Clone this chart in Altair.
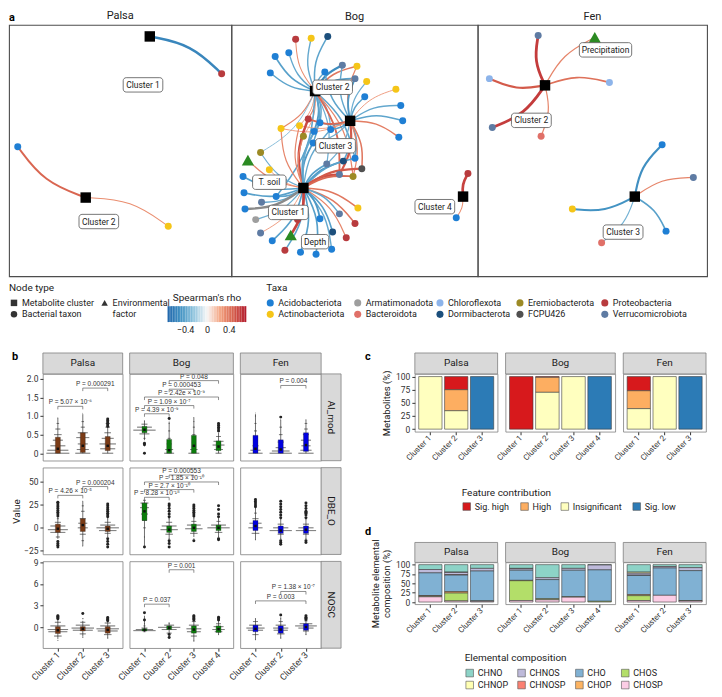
import math
import altair as alt
import numpy as np
import pandas as pd

FONT = "Roboto"
PFONT = "Liberation Sans"
INK = "#222222"
FRAME = "#7f7f7f"

# ---------------- shared categories ----------------
TAXA = ["Acidobacteriota", "Actinobacteriota", "Armatimonadota", "Bacteroidota",
        "Chloroflexota", "Dormibacterota", "Eremiobacterota", "FCPU426",
        "Proteobacteria", "Verrucomicrobiota"]
TAXA_COLORS = ["#1f7fd4", "#f5c518", "#9e9e9e", "#e07068", "#8db4ea",
               "#1c4f7c", "#9c8a25", "#505050", "#b83b3e", "#5e7ba3"]
RHO_STOPS = [-0.72, -0.48, -0.24, 0.0, 0.24, 0.48, 0.72]
RHO_COLORS = ["#2166ac", "#4393c3", "#92c5de", "#f7f7f7", "#f4a582", "#d6604d", "#b2182b"]
RHO_TICKS = [-0.4, 0.0, 0.4]
RHO_SCALE = alt.Scale(domain=RHO_STOPS, range=RHO_COLORS, interpolate="rgb")

# ---------------- panel a: network layouts (layout units, x right / y down) ----------------
NET_EXTENT = {"Palsa": (229, 262), "Bog": (253, 262), "Fen": (235, 262)}
NET_W = {"Palsa": 223, "Bog": 247, "Fen": 230}
NET_H = 252

PALSA_NODES = [
    ("C1", "cluster", "", 145, 12), ("C2", "cluster", "", 79, 180),
    ("p1", "taxon", "Proteobacteria", 219, 51),
    ("p2", "taxon", "Acidobacteriota", 9, 127),
    ("p3", "taxon", "Actinobacteriota", 164, 210),
]
PALSA_EDGES = [("C1", "p1", -0.55), ("C2", "p2", 0.46), ("C2", "p3", 0.32)]
PALSA_LABELS = [("Cluster 1", 138, 62.5), ("Cluster 2", 92.5, 205)]

BOG_NODES = [
    ("C1", "cluster", "", 74, 170), ("C2", "cluster", "", 86, 69),
    ("C3", "cluster", "", 122, 100), ("C4", "cluster", "", 238, 179),
    ("Tsoil", "env", "", 17, 141), ("Depth", "env", "", 61, 219),
    ("b1", "taxon", "Proteobacteria", 66, 15), ("b2", "taxon", "Actinobacteriota", 82, 14),
    ("b3", "taxon", "Dormibacterota", 99, 12), ("b4", "taxon", "Acidobacteriota", 45, 33),
    ("b5", "taxon", "Acidobacteriota", 59, 29), ("b6", "taxon", "Acidobacteriota", 40, 50),
    ("b7", "taxon", "Verrucomicrobiota", 114, 42), ("b8", "taxon", "Actinobacteriota", 129, 43),
    ("b9", "taxon", "Acidobacteriota", 96, 49), ("b10", "taxon", "Verrucomicrobiota", 127, 56),
    ("b11", "taxon", "Actinobacteriota", 139, 59), ("b12", "taxon", "Acidobacteriota", 137, 75),
    ("b13", "taxon", "Actinobacteriota", 169, 67), ("b14", "taxon", "Acidobacteriota", 174, 84),
    ("b15", "taxon", "Acidobacteriota", 176, 100), ("b16", "taxon", "Acidobacteriota", 172, 117),
    ("b17", "taxon", "Proteobacteria", 79, 98), ("b18", "taxon", "Actinobacteriota", 51, 108),
    ("b19", "taxon", "Actinobacteriota", 70, 105), ("b20", "taxon", "Acidobacteriota", 91, 102),
    ("b21", "taxon", "Acidobacteriota", 102, 109), ("b22", "taxon", "Acidobacteriota", 85, 111),
    ("b23", "taxon", "Eremiobacterota", 74, 116), ("b24", "taxon", "Acidobacteriota", 84, 123),
    ("b25", "taxon", "Verrucomicrobiota", 98, 145), ("b26", "taxon", "Dormibacterota", 115, 142),
    ("b27", "taxon", "Acidobacteriota", 127, 139), ("b28", "taxon", "Verrucomicrobiota", 111, 156),
    ("b29", "taxon", "FCPU426", 134, 150), ("b30", "taxon", "Eremiobacterota", 125, 158),
    ("b31", "taxon", "Eremiobacterota", 30, 133), ("b32", "taxon", "Actinobacteriota", 39, 151),
    ("b33", "taxon", "Acidobacteriota", 12, 158), ("b34", "taxon", "Acidobacteriota", 13, 175),
    ("b35", "taxon", "Acidobacteriota", 14, 192), ("b36", "taxon", "Armatimonadota", 25, 203),
    ("b37", "taxon", "Verrucomicrobiota", 30, 217), ("b38", "taxon", "Verrucomicrobiota", 31, 185),
    ("b39", "taxon", "Acidobacteriota", 46, 179), ("b40", "taxon", "Acidobacteriota", 42, 225),
    ("b41", "taxon", "Proteobacteria", 55, 235), ("b42", "taxon", "Acidobacteriota", 71, 237),
    ("b43", "taxon", "Acidobacteriota", 87, 239), ("b44", "taxon", "Acidobacteriota", 103, 234),
    ("b45", "taxon", "Dormibacterota", 104, 216), ("b46", "taxon", "Proteobacteria", 118, 222),
    ("b47", "taxon", "Proteobacteria", 127, 207), ("b48", "taxon", "Verrucomicrobiota", 111, 197),
    ("b49", "taxon", "Actinobacteriota", 130, 191), ("b50", "taxon", "Acidobacteriota", 91, 202),
    ("b51", "taxon", "Proteobacteria", 68, 203),
    ("b53", "taxon", "Proteobacteria", 243, 155), ("b54", "taxon", "Acidobacteriota", 231, 201),
]
BOG_EDGES = [
    ("C2", "b1", 0.32), ("C2", "b2", -0.38), ("C2", "b3", -0.4), ("C2", "b4", -0.42),
    ("C2", "b5", -0.38), ("C2", "b6", -0.4), ("C2", "b7", -0.52), ("C2", "b8", 0.4),
    ("C2", "b9", -0.38), ("C2", "b10", -0.42), ("C2", "b17", 0.35), ("C2", "b18", 0.35),
    ("C2", "b19", 0.3), ("C2", "b20", -0.4), ("C2", "b21", -0.35), ("C2", "b22", -0.45),
    ("C2", "b23", 0.3), ("C2", "b24", -0.4), ("C2", "b25", -0.35), ("C2", "b27", -0.4),
    ("C2", "b28", 0.45), ("C2", "b30", 0.35), ("C2", "b39", -0.4), ("C2", "b31", -0.3),
    ("C3", "b7", -0.38), ("C3", "b8", 0.35), ("C3", "b9", -0.4), ("C3", "b10", -0.45),
    ("C3", "b11", -0.35), ("C3", "b12", -0.4), ("C3", "b13", 0.3), ("C3", "b14", -0.38),
    ("C3", "b15", -0.4), ("C3", "b16", 0.38), ("C3", "b20", -0.4), ("C3", "b21", -0.42),
    ("C3", "b17", 0.45), ("C3", "b19", 0.3), ("C3", "b25", -0.35), ("C3", "b26", -0.4),
    ("C3", "b27", -0.4), ("C3", "b28", 0.5), ("C3", "b29", 0.4), ("C3", "b30", 0.35),
    ("C3", "b24", -0.35), ("C3", "b18", 0.3),
    ("C1", "b17", 0.55), ("C1", "b19", 0.35), ("C1", "b21", -0.38), ("C1", "b22", -0.4),
    ("C1", "b23", 0.35), ("C1", "b24", -0.45), ("C1", "b25", -0.42), ("C1", "b26", -0.45),
    ("C1", "b27", -0.4), ("C1", "b28", 0.55), ("C1", "b29", 0.5), ("C1", "b30", 0.45),
    ("C1", "b31", -0.35), ("C1", "b32", 0.3), ("C1", "b33", -0.42), ("C1", "b34", -0.42),
    ("C1", "b35", None), ("C1", "b36", -0.35), ("C1", "b37", 0.3), ("C1", "b38", -0.38),
    ("C1", "b39", -0.4), ("C1", "b40", -0.42), ("C1", "b41", -0.4), ("C1", "b42", -0.42),
    ("C1", "b43", -0.42), ("C1", "b44", -0.38), ("C1", "b45", -0.42), ("C1", "b46", 0.35),
    ("C1", "b47", 0.4), ("C1", "b48", -0.38), ("C1", "b49", 0.4), ("C1", "b50", -0.45),
    ("C1", "b51", 0.3), ("C1", "b20", -0.38), ("C1", "b18", 0.35),
    ("C1", "Tsoil", 0.35), ("C1", "Depth", 0.58),
    ("C4", "b53", 0.58), ("C4", "b54", 0.32),
]
BOG_LABELS = [("Cluster 1", 58.5, 195.5), ("Cluster 2", 104, 65), ("Cluster 3", 107, 126),
              ("Cluster 4", 209, 189.5), ("T. soil", 39, 164), ("Depth", 86, 226)]

FEN_NODES = [
    ("C2", "cluster", "", 69, 63), ("C3", "cluster", "", 161, 179),
    ("Precip", "env", "", 120, 13),
    ("f1", "taxon", "Verrucomicrobiota", 62, 11), ("f2", "taxon", "Chloroflexota", 12, 56),
    ("f3", "taxon", "Chloroflexota", 135, 60), ("f4", "taxon", "Verrucomicrobiota", 15, 107),
    ("f5", "taxon", "Bacteroidota", 65, 116), ("f6", "taxon", "Acidobacteriota", 189, 125),
    ("f7", "taxon", "Verrucomicrobiota", 221, 159), ("f8", "taxon", "Actinobacteriota", 97, 192),
    ("f9", "taxon", "Acidobacteriota", 193, 215), ("f10", "taxon", "Bacteroidota", 127, 227),
]
FEN_EDGES = [("C2", "f1", 0.6), ("C2", "f2", 0.5), ("C2", "f3", 0.42), ("C2", "f4", 0.6),
             ("C2", "f5", 0.35), ("C2", "Precip", 0.35), ("C3", "f6", -0.5), ("C3", "f7", 0.35),
             ("C3", "f8", -0.48), ("C3", "f9", -0.42), ("C3", "f10", -0.33)]
FEN_LABELS = [("Precipitation", 131, 26), ("Cluster 2", 55, 99.5), ("Cluster 3", 149, 216)]

NODE_TYPE_LABELS = ["Metabolite cluster", "Bacterial taxon", "Environmental", "factor"]
NODE_TYPE_SHAPES = ["square", "circle", "triangle-up", ""]

# ---------------- panel b: violin summaries ----------------
SITES = ["Palsa", "Bog", "Fen"]
METRICS = ["AI_mod", "DBE_O", "NOSC"]
VIOLIN_FILL = {"Palsa": "#c8a391", "Bog": "#7dc67b", "Fen": "#7c7cf8"}
BOX_FILL = {"Palsa": "#7a3b16", "Bog": "#0b7d0b", "Fen": "#0000e0"}
Y_DOMAIN = {"AI_mod": [-0.2, 2.13], "DBE_O": [-29, 65.6], "NOSC": [-2.87, 9.1]}
Y_TICKS = {"AI_mod": [0, 0.5, 1.0, 1.5, 2.0], "DBE_O": [-25, 0, 25, 50], "NOSC": [0, 3, 6, 9]}

# (value, half width in cluster units)
AI_PROFILE = {
    "Palsa": [
        [(0.0, 0.46), (0.08, 0.42), (0.2, 0.3), (0.35, 0.2), (0.5, 0.15), (0.65, 0.1), (0.8, 0.05), (0.95, 0.01)],
        [(0.0, 0.3), (0.1, 0.24), (0.25, 0.2), (0.42, 0.26), (0.55, 0.2), (0.7, 0.08), (0.85, 0.05), (1.07, 0.01)],
        [(0.0, 0.22), (0.12, 0.3), (0.25, 0.33), (0.4, 0.24), (0.55, 0.13), (0.7, 0.09), (0.8, 0.08), (0.92, 0.02)]],
    "Bog": [
        [(0.0, 0.02), (0.2, 0.02), (0.4, 0.04), (0.52, 0.2), (0.62, 0.45), (0.7, 0.3), (0.78, 0.12), (0.87, 0.02)],
        [(0.0, 0.2), (0.1, 0.16), (0.25, 0.1), (0.4, 0.06), (0.6, 0.04), (0.8, 0.02), (0.9, 0.01)],
        [(0.0, 0.22), (0.1, 0.15), (0.3, 0.08), (0.5, 0.06), (0.7, 0.04), (0.85, 0.02), (0.96, 0.01)],
        [(0.0, 0.12), (0.1, 0.18), (0.22, 0.24), (0.32, 0.2), (0.45, 0.1), (0.6, 0.06), (0.8, 0.01)]],
    "Fen": [
        [(0.0, 0.28), (0.08, 0.2), (0.2, 0.12), (0.4, 0.08), (0.6, 0.06), (0.8, 0.04), (1.0, 0.02), (1.08, 0.01)],
        [(0.0, 0.44), (0.06, 0.35), (0.15, 0.2), (0.3, 0.12), (0.5, 0.07), (0.7, 0.05), (0.9, 0.01)],
        [(0.0, 0.3), (0.08, 0.22), (0.2, 0.18), (0.35, 0.2), (0.5, 0.12), (0.65, 0.07), (0.8, 0.05), (0.9, 0.01)]],
}
AI_BOX = {  # (lower whisker, q1, median, q3, upper whisker)
    "Palsa": [(0, 0.0, 0.12, 0.43, 0.95), (0, 0.02, 0.2, 0.55, 1.05), (0, 0.07, 0.2, 0.45, 0.68)],
    "Bog": [(0.35, 0.55, 0.63, 0.72, 0.87), (0, 0.0, 0.08, 0.37, 0.85), (0, 0.0, 0.2, 0.48, 0.96), (0, 0.07, 0.18, 0.33, 0.55)],
    "Fen": [(0, 0.0, 0.12, 0.48, 1.05), (0, 0.0, 0.1, 0.36, 0.9), (0, 0.05, 0.22, 0.55, 0.9)],
}
AI_OUT = {
    "Palsa": [[], [], [0.72, 0.76, 0.8, 0.84, 0.88, 0.92]],
    "Bog": [[0.0, 0.23, 0.27], [0.93], [], [0.6, 0.65, 0.7, 0.75, 0.8]],
    "Fen": [[], [0.97], []],
}
AI_P = {
    "Palsa": [(1, 2, 1.26, "P = 5.07 × 10⁻⁶"), (2, 3, 1.75, "P = 0.000291")],
    "Bog": [(1, 2, 1.06, "P = 4.39 × 10⁻⁹"), (1, 3, 1.28, "P = 1.09 × 10⁻⁷"),
            (1, 4, 1.51, "P = 2.42e × 10⁻⁹"), (2, 3, 1.72, "P = 0.000453"), (2, 4, 1.95, "P = 0.048")],
    "Fen": [(2, 3, 1.82, "P = 0.004")],
}

DBE_PROFILE = {
    "Palsa": [
        [(-14, 0.01), (-10, 0.08), (-5, 0.3), (-2, 0.4), (2, 0.3), (6, 0.12), (10, 0.04), (13, 0.01)],
        [(-20, 0.01), (-14, 0.05), (-7, 0.12), (0, 0.2), (5, 0.18), (10, 0.12), (18, 0.07), (24, 0.04), (29, 0.01)],
        [(-10, 0.01), (-6, 0.12), (-3, 0.35), (0, 0.45), (3, 0.3), (6, 0.12), (10, 0.02)]],
    "Bog": [
        [(-21, 0.01), (-10, 0.02), (0, 0.05), (8, 0.1), (15, 0.14), (22, 0.18), (27, 0.16), (30, 0.06)],
        [(-12, 0.02), (-7, 0.15), (-2, 0.35), (2, 0.3), (6, 0.12), (10, 0.03)],
        [(-12, 0.02), (-6, 0.15), (-1, 0.35), (3, 0.28), (7, 0.1), (11, 0.03)],
        [(-10, 0.02), (-5, 0.15), (0, 0.45), (3, 0.3), (7, 0.08), (10, 0.02)]],
    "Fen": [
        [(-13, 0.02), (-6, 0.15), (0, 0.28), (5, 0.24), (10, 0.12), (16, 0.05), (22, 0.02)],
        [(-12, 0.02), (-7, 0.12), (-3, 0.44), (0, 0.3), (4, 0.12), (9, 0.02)],
        [(-12, 0.02), (-7, 0.12), (-3, 0.4), (0, 0.3), (4, 0.12), (9, 0.02)]],
}
DBE_BOX = {
    "Palsa": [(-12, -5, -1, 4, 12), (-20, -4, 3, 10, 29), (-10, -4, -1, 2, 10)],
    "Bog": [(-21, 8, 18, 27, 30), (-12, -5, -2, 2, 10), (-10, -4, 0, 4, 11), (-10, -3, 0, 3, 10)],
    "Fen": [(-13, -3, 2, 8, 22), (-12, -6, -3, 2, 9), (-12, -6, -2, 2, 9)],
}
DBE_OUT = {
    "Palsa": [[-21, -19, -17, -15, 13, 15, 17, 19, 21, 23, 25, 27, 28], [],
              [-21, -18, -15, -12, 12, 14, 16, 18, 20, 22, 24, 26]],
    "Bog": [[-21], [-21, -17, -14, 12, 15, 18, 21, 24, 26], [-14, 13, 15, 17, 19, 21, 23, 25],
            [-13, -12, 12, 15, 20, 24]],
    "Fen": [[23, 25, 27, 29, 31], [-18, -16, -14, 11, 14, 17, 20, 23, 26, 29],
            [-16, -14, 11, 14, 16, 17, 18, 21, 24, 27]],
}
DBE_P = {
    "Palsa": [(1, 2, 35.4, "P = 4.26 × 10⁻⁵"), (2, 3, 45.0, "P = 0.000204")],
    "Bog": [(1, 2, 33.3, "P = 8.28 × 10⁻¹⁸"), (1, 3, 41.7, "P = 2.7 × 10⁻¹⁰"),
            (1, 4, 50.0, "P = 1.85 × 10⁻¹⁰"), (2, 3, 57.6, "P = 0.000553")],
    "Fen": [],
}

NOSC_PROFILE = {
    "Palsa": [
        [(-1.8, 0.02), (-1.2, 0.15), (-0.6, 0.38), (-0.3, 0.41), (0.2, 0.3), (0.7, 0.12), (1.2, 0.05), (1.7, 0.01)],
        [(-1.4, 0.02), (-0.9, 0.12), (-0.4, 0.4), (-0.1, 0.45), (0.3, 0.28), (0.7, 0.1), (1.2, 0.03), (1.9, 0.01)],
        [(-1.5, 0.02), (-1.0, 0.15), (-0.5, 0.4), (-0.2, 0.45), (0.2, 0.3), (0.6, 0.12), (1.0, 0.05), (1.4, 0.01)]],
    "Bog": [
        [(-0.6, 0.04), (-0.45, 0.45), (-0.3, 0.35), (-0.1, 0.12), (0.2, 0.04), (0.5, 0.02)],
        [(-1.4, 0.02), (-0.8, 0.1), (-0.3, 0.3), (0.0, 0.45), (0.3, 0.2), (0.6, 0.03)],
        [(-1.9, 0.02), (-1.2, 0.12), (-0.6, 0.28), (-0.2, 0.3), (0.3, 0.2), (0.8, 0.08), (1.3, 0.03), (1.7, 0.01)],
        [(-1.0, 0.02), (-0.6, 0.15), (-0.3, 0.25), (0.1, 0.2), (0.5, 0.1), (1.0, 0.04), (1.4, 0.01)]],
    "Fen": [
        [(-1.7, 0.02), (-1.0, 0.12), (-0.4, 0.3), (-0.1, 0.36), (0.3, 0.25), (0.8, 0.1), (1.2, 0.02)],
        [(-1.5, 0.02), (-0.9, 0.15), (-0.4, 0.28), (-0.1, 0.3), (0.3, 0.2), (0.8, 0.08), (1.3, 0.02)],
        [(-1.0, 0.02), (-0.5, 0.12), (-0.1, 0.3), (0.2, 0.43), (0.5, 0.25), (0.9, 0.06), (1.2, 0.02)]],
}
NOSC_BOX = {
    "Palsa": [(-1.6, -0.85, -0.4, 0.1, 1.1), (-1.3, -0.5, -0.2, 0.1, 0.9), (-1.5, -0.8, -0.35, 0.1, 0.8)],
    "Bog": [(-0.6, -0.5, -0.35, -0.2, 1.6), (-0.8, -0.3, -0.05, 0.2, 0.6), (-1.9, -0.8, -0.3, 0.2, 0.9),
            (-1.0, -0.7, -0.25, 0.2, 0.9)],
    "Fen": [(-1.7, -0.6, -0.2, 0.3, 1.2), (-1.5, -0.8, -0.3, 0.2, 1.3), (-1.0, -0.4, 0.05, 0.5, 1.0)],
}
NOSC_OUT = {
    "Palsa": [[1.2, 1.35, 1.5, 1.6], [1.9], [0.9, 1.05, 1.2, 1.35]],
    "Bog": [[1.0, 2.0], [-1.0, -1.4], [1.0, 1.15, 1.3, 1.45, 1.6], [1.0, 1.2, 1.4]],
    "Fen": [[], [1.7], [1.1, 1.25, 1.4, 1.6]],
}
NOSC_P = {
    "Palsa": [],
    "Bog": [(1, 2, 3.2, "P = 0.037"), (2, 3, 7.95, "P = 0.001")],
    "Fen": [(1, 3, 3.65, "P = 0.003"), (2, 3, 4.95, "P = 1.38 × 10⁻⁷")],
}
PROFILES = {"AI_mod": AI_PROFILE, "DBE_O": DBE_PROFILE, "NOSC": NOSC_PROFILE}
BOXES = {"AI_mod": AI_BOX, "DBE_O": DBE_BOX, "NOSC": NOSC_BOX}
OUTLIERS = {"AI_mod": AI_OUT, "DBE_O": DBE_OUT, "NOSC": NOSC_OUT}
PVALS = {"AI_mod": AI_P, "DBE_O": DBE_P, "NOSC": NOSC_P}

# ---------------- panel c ----------------
CONTRIB = ["Sig. high", "High", "Insignificant", "Sig. low"]
CONTRIB_COLORS = ["#d7191c", "#fdae61", "#ffffbf", "#2c7bb6"]
C_SITE = ["Palsa"] * 5 + ["Bog"] * 6 + ["Fen"] * 5
C_CLUSTER = ["Cluster 1", "Cluster 2", "Cluster 2", "Cluster 2", "Cluster 3",
             "Cluster 1", "Cluster 2", "Cluster 2", "Cluster 2", "Cluster 3", "Cluster 4",
             "Cluster 1", "Cluster 1", "Cluster 1", "Cluster 2", "Cluster 3"]
C_CONTRIB = ["Insignificant", "Sig. high", "High", "Insignificant", "Sig. low",
             "Sig. high", "Sig. high", "High", "Insignificant", "Insignificant", "Sig. low",
             "Sig. high", "High", "Insignificant", "Insignificant", "Sig. low"]
C_PCT = [100, 25, 40, 35, 100, 100, 1.5, 28.5, 70, 100, 100, 27, 34, 39, 100, 100]

# ---------------- panel d ----------------
ELEMENTS = ["CHNO", "CHNOP", "CHNOS", "CHNOSP", "CHO", "CHOP", "CHOS", "CHOSP"]
ELEMENT_COLORS = ["#8dd3c7", "#ffffb3", "#bebada", "#fb8072", "#80b1d3", "#fdb462", "#b3de69", "#fccde5"]
D_SITE = ["Palsa"] * 3 + ["Bog"] * 4 + ["Fen"] * 3
D_CLUSTER = ["Cluster 1", "Cluster 2", "Cluster 3", "Cluster 1", "Cluster 2", "Cluster 3", "Cluster 4",
             "Cluster 1", "Cluster 2", "Cluster 3"]
D_VALUES = [[13, 0, 9, 0, 61, 1, 2, 14], [20, 1, 6, 1, 44, 4, 21, 3], [10, 0, 7, 0, 80, 0, 1, 2],
            [10, 1, 4, 0, 27, 1, 53, 4], [35, 0, 5, 0, 51, 0, 3, 6], [10, 0, 5, 0, 71, 0, 1, 13],
            [1, 0, 13, 0, 84, 0, 2, 0], [20, 3, 5, 1, 51, 3, 13, 4], [5, 0, 4, 0, 73, 0, 0, 18],
            [8, 0, 8, 0, 80, 0, 1, 3]]

N_CLUSTERS = {"Palsa": 3, "Bog": 4, "Fen": 3}
B_W = {"Palsa": 80, "Bog": 104, "Fen": 81}
B_H = 87
CD_W = {"Palsa": 83, "Bog": 110, "Fen": 83}
LETTER_X = -50

RES = dict(color="independent", fill="independent", size="independent", shape="independent")
NOVIEW = alt.ViewBackground(stroke="transparent", fill="transparent")


def text_width(s):
    w = 0.0
    for ch in s:
        if ch.isupper():
            w += 2.8 if ch == "I" else 6.0
        elif ch in "ijlftr. ":
            w += 2.6
        else:
            w += 4.9
    return w


def letter_layer(letter, x, y):
    return alt.Chart(pd.DataFrame({"t": [letter]})).mark_text(
        fontSize=11, fontWeight="bold", align="left", color="black").encode(
        x=alt.value(x), y=alt.value(y), text="t:N")


def top_strip_layers(text, W, h):
    df = pd.DataFrame({"t": [text]})
    rect = alt.Chart(df).mark_rect(fill="#d9d9d9", stroke=FRAME, strokeWidth=0.8).encode(
        x=alt.value(0), x2=alt.value(W), y=alt.value(-h), y2=alt.value(0))
    txt = alt.Chart(df).mark_text(fontSize=10, color="#1a1a1a").encode(
        x=alt.value(W / 2), y=alt.value(-h / 2), text="t:N")
    return [rect, txt]


def right_strip_layers(text, W, H, w=20):
    df = pd.DataFrame({"t": [text]})
    rect = alt.Chart(df).mark_rect(fill="#d9d9d9", stroke=FRAME, strokeWidth=0.8).encode(
        x=alt.value(W), x2=alt.value(W + w), y=alt.value(0), y2=alt.value(H))
    txt = alt.Chart(df).mark_text(fontSize=10, color="#1a1a1a", angle=90).encode(
        x=alt.value(W + w / 2), y=alt.value(H / 2), text="t:N")
    return [rect, txt]


def spacer(W, H):
    return alt.Chart(pd.DataFrame({"t": [""]})).mark_text().encode(
        x=alt.value(0), y=alt.value(0), text="t:N").properties(width=W, height=H, view=NOVIEW)


# ---------------- network panels ----------------
def edge_frame(nodes, edges, bend=0.15):
    pos = {n[0]: (n[3], n[4]) for n in nodes}
    rows = []
    for k, (a, b, rho) in enumerate(edges):
        x0, y0 = pos[a]
        x1, y1 = pos[b]
        dx, dy = x1 - x0, y1 - y0
        cx = (x0 + x1) / 2 + bend * dy
        cy = (y0 + y1) / 2 - bend * dx
        for t, (x, y) in enumerate(((x0, y0), (cx, cy), (x1, y1))):
            rows.append({"e": k, "t": t, "x": x, "y": y,
                         "rho": rho, "w": abs(rho) if rho is not None else 0.55})
    return pd.DataFrame(rows)


def label_frame(labels):
    rows = []
    for text, x, y in labels:
        hw = (3.2 * len(text) + 12) / 2
        rows.append({"label": text, "x": x, "y": y, "x0": x - hw, "x1": x + hw,
                     "y0": y - 7.5, "y1": y + 7.5})
    return pd.DataFrame(rows)


def net_chart(site, nodes, edges, labels, letter=None):
    ex, ey = NET_EXTENT[site]
    xs = alt.Scale(domain=[0, ex], nice=False, zero=False)
    ys = alt.Scale(domain=[0, ey], nice=False, zero=False, reverse=True)

    def X(f):
        return alt.X(f, scale=xs, axis=None)

    def Y(f):
        return alt.Y(f, scale=ys, axis=None)

    ed = edge_frame(nodes, edges)
    colored = ed[ed["rho"].notna()]
    grey = ed[ed["rho"].isna()]
    nd = pd.DataFrame(nodes, columns=["id", "kind", "taxon", "x", "y"])
    lb = label_frame(labels)
    layers = [
        alt.Chart(colored).mark_line(interpolate="basis").encode(
            x=X("x:Q"), y=Y("y:Q"), detail="e:N", order="t:Q",
            color=alt.Color("rho:Q", scale=RHO_SCALE, legend=None),
            size=alt.Size("w:Q", scale=alt.Scale(domain=[0.3, 0.6], range=[0.9, 2.8], clamp=True), legend=None))
    ]
    if len(grey):
        layers.append(alt.Chart(grey).mark_line(interpolate="basis", color="#8a8a8a", strokeWidth=2.4).encode(
            x=X("x:Q"), y=Y("y:Q"), detail="e:N", order="t:Q"))
    layers.append(alt.Chart(nd[nd["kind"] == "taxon"]).mark_circle(size=49, opacity=1).encode(
        x=X("x:Q"), y=Y("y:Q"),
        fill=alt.Fill("taxon:N", scale=alt.Scale(domain=TAXA, range=TAXA_COLORS), legend=None)))
    layers.append(alt.Chart(nd[nd["kind"] == "cluster"]).mark_square(size=110, color="black", opacity=1).encode(
        x=X("x:Q"), y=Y("y:Q")))
    env = nd[nd["kind"] == "env"]
    if len(env):
        layers.append(alt.Chart(env).mark_point(shape="triangle-up", filled=True, size=150,
                                                color="#2b8a22", opacity=1).encode(x=X("x:Q"), y=Y("y:Q")))
    layers.append(alt.Chart(lb).mark_rect(fill="white", stroke="#555555", strokeWidth=0.8, cornerRadius=3).encode(
        x=X("x0:Q"), x2="x1:Q", y=Y("y0:Q"), y2="y1:Q"))
    layers.append(alt.Chart(lb).mark_text(fontSize=8.5, color=INK).encode(x=X("x:Q"), y=Y("y:Q"), text="label:N"))
    title_kw = dict(fontSize=11, fontWeight="normal", color=INK, offset=3, frame="group")
    if letter:
        layers.append(letter_layer(letter, 0, -7))
        title_kw["dy"] = 12.5
    return alt.layer(*layers).properties(
        width=NET_W[site], height=NET_H,
        title=alt.TitleParams(site, **title_kw),
        view=alt.ViewBackground(stroke="#4d4d4d", strokeWidth=1.1))


# ---------------- legends ----------------
def legend_title(text, dx):
    return alt.TitleParams(text, anchor="start", frame="group", dx=dx, fontSize=10,
                           fontWeight="normal", color=INK, offset=4)


def column_positions(labels, n_rows, start, gap):
    n_cols = math.ceil(len(labels) / n_rows)
    xs = [start]
    for c in range(1, n_cols):
        prev = labels[(c - 1) * n_rows: c * n_rows]
        xs.append(xs[-1] + 12 + max(text_width(s) for s in prev) + gap)
    return xs


def swatch_legend(labels, colors, n_rows, start, W, H, title, title_dx, mark="square", gap=10):
    xs = column_positions(labels, n_rows, start, gap)
    df = pd.DataFrame({"label": labels,
                       "x": [xs[i // n_rows] for i in range(len(labels))],
                       "r": [i % n_rows for i in range(len(labels))]})
    X = alt.X("x:Q", scale=alt.Scale(domain=[0, W], nice=False, zero=False), axis=None)
    Y = alt.Y("r:Q", scale=alt.Scale(domain=[-0.5, n_rows - 0.5], nice=False, zero=False, reverse=True), axis=None)
    fill = alt.Fill("label:N", scale=alt.Scale(domain=labels, range=colors), legend=None)
    if mark == "circle":
        sym = alt.Chart(df).mark_circle(size=50, opacity=1).encode(x=X, y=Y, fill=fill)
    else:
        sym = alt.Chart(df).mark_square(size=58, opacity=1, stroke="#555555", strokeWidth=0.6).encode(
            x=X, y=Y, fill=fill)
    txt = alt.Chart(df).mark_text(align="left", dx=8, fontSize=9, color=INK).encode(x=X, y=Y, text="label:N")
    return alt.layer(sym, txt).properties(width=W, height=H, title=legend_title(title, title_dx), view=NOVIEW)


def node_type_legend(W, H):
    xs = column_positions(NODE_TYPE_LABELS, 2, 5, 8)
    df = pd.DataFrame({"label": NODE_TYPE_LABELS, "shape": NODE_TYPE_SHAPES,
                       "x": [xs[i // 2] for i in range(4)], "r": [i % 2 for i in range(4)]})
    X = alt.X("x:Q", scale=alt.Scale(domain=[0, W], nice=False, zero=False), axis=None)
    Y = alt.Y("r:Q", scale=alt.Scale(domain=[-0.5, 1.5], nice=False, zero=False, reverse=True), axis=None)
    sym = alt.Chart(df[df["shape"] != ""]).mark_point(filled=True, opacity=1, size=42, color="#333333").encode(
        x=X, y=Y, shape=alt.Shape("shape:N", scale=alt.Scale(domain=NODE_TYPE_SHAPES[:3], range=NODE_TYPE_SHAPES[:3]),
                                  legend=None))
    txt = alt.Chart(df).mark_text(align="left", dx=8, fontSize=9, color=INK).encode(x=X, y=Y, text="label:N")
    return alt.layer(sym, txt).properties(width=W, height=H, title=legend_title("Node type", 0), view=NOVIEW)


def rho_legend(W, H):
    edges = np.linspace(RHO_STOPS[0], RHO_STOPS[-1], 49)
    df = pd.DataFrame({"lo": edges[:-1], "hi": edges[1:], "mid": (edges[:-1] + edges[1:]) / 2})
    xaxis = alt.Axis(values=RHO_TICKS, ticks=False, domain=False, labelPadding=3, labelFontSize=9,
                     labelColor=INK, title="",
                     labelExpr="datum.value == 0 ? '0' : (datum.value < 0 ? '\u2212' : '') + format(abs(datum.value), '.1f')")
    bar = alt.Chart(df).mark_rect().encode(
        x=alt.X("lo:Q", scale=alt.Scale(domain=[RHO_STOPS[0], RHO_STOPS[-1]], nice=False, zero=False), axis=xaxis),
        x2="hi:Q", y=alt.value(9), y2=alt.value(H),
        fill=alt.Fill("mid:Q", scale=RHO_SCALE, legend=None))
    ttl = alt.Chart(pd.DataFrame({"t": ["Spearman's rho"]})).mark_text(fontSize=10, color=INK).encode(
        x=alt.value(W / 2), y=alt.value(1), text="t:N")
    return alt.layer(bar, ttl).properties(width=W, height=H, view=NOVIEW)


# ---------------- violin panels ----------------
def violin_panel(metric, site, W, H, first, bottom, top_strip=None, right_strip=None, letter=None):
    prof = PROFILES[metric][site]
    n = len(prof)
    dom = Y_DOMAIN[metric]
    xs = alt.Scale(domain=[0.4, n + 0.6], nice=False, zero=False)
    ys = alt.Scale(domain=dom, nice=False, zero=False)
    if first:
        ykw = dict(values=Y_TICKS[metric], tickSize=3, labelFontSize=8.5, labelColor="#333333",
                   tickColor="#333333", domain=False, grid=False, labelPadding=2,
                   title="Value" if metric == "DBE_O" else "", titleFontSize=10,
                   titleFontWeight="normal", titleColor=INK, titlePadding=2)
        if metric == "AI_mod":
            ykw["labelExpr"] = "datum.value == 0 ? '0' : format(datum.value, '.1f')"
        yaxis = alt.Axis(**ykw)
    else:
        yaxis = None
    if bottom:
        xaxis = alt.Axis(values=list(range(1, n + 1)), labelExpr="'Cluster ' + datum.value",
                         labelAngle=-45, labelAlign="right", labelBaseline="middle", tickSize=3,
                         labelFontSize=9, labelColor="#333333", tickColor="#333333", domain=False,
                         grid=False, title="", labelPadding=2, labelOverlap=False)
    else:
        xaxis = None

    def X(f):
        return alt.X(f, scale=xs, axis=xaxis)

    def Y(f):
        return alt.Y(f, scale=ys, axis=yaxis)

    area_df = pd.DataFrame([{"c": i + 1, "v": v, "xl": i + 1 - hw, "xr": i + 1 + hw}
                            for i, p in enumerate(prof) for v, hw in p])
    box_df = pd.DataFrame([{"c": i + 1, "lo": b[0], "q1": b[1], "med": b[2], "q3": b[3], "hi": b[4],
                            "bl": i + 1 - 0.1, "br": i + 1 + 0.1}
                           for i, b in enumerate(BOXES[metric][site])])
    out_rows = [{"c": i + 1, "v": v} for i, vs in enumerate(OUTLIERS[metric][site]) for v in vs]
    layers = [
        alt.Chart(area_df).mark_area(orient="horizontal", interpolate="monotone", fill=VIOLIN_FILL[site],
                                     stroke="#555555", strokeWidth=0.5, opacity=1).encode(
            y=Y("v:Q"), x=X("xl:Q"), x2="xr:Q", detail="c:N", order="v:Q"),
        alt.Chart(box_df).mark_rule(color="#333333", strokeWidth=0.7).encode(x=X("c:Q"), y=Y("lo:Q"), y2="hi:Q"),
        alt.Chart(box_df).mark_rect(fill=BOX_FILL[site], stroke="#222222", strokeWidth=0.3).encode(
            x=X("bl:Q"), x2="br:Q", y=Y("q1:Q"), y2="q3:Q"),
        alt.Chart(box_df).mark_point(shape="square", filled=True, size=6, color="#111111", opacity=1).encode(
            x=X("c:Q"), y=Y("med:Q")),
    ]
    if out_rows:
        layers.append(alt.Chart(pd.DataFrame(out_rows)).mark_circle(size=9, color="#222222", opacity=1).encode(
            x=X("c:Q"), y=Y("v:Q")))
    pv = PVALS[metric][site]
    if pv:
        tip = 0.035 * (dom[1] - dom[0])
        bdf = pd.DataFrame([{"x1": a, "x2": b, "xm": (a + b) / 2, "yb": y, "yt": y - tip, "lab": lab}
                            for a, b, y, lab in pv])
        layers += [
            alt.Chart(bdf).mark_rule(color="#444444", strokeWidth=0.6).encode(x=X("x1:Q"), x2="x2:Q", y=Y("yb:Q")),
            alt.Chart(bdf).mark_rule(color="#444444", strokeWidth=0.6).encode(x=X("x1:Q"), y=Y("yb:Q"), y2="yt:Q"),
            alt.Chart(bdf).mark_rule(color="#444444", strokeWidth=0.6).encode(x=X("x2:Q"), y=Y("yb:Q"), y2="yt:Q"),
            alt.Chart(bdf).mark_text(fontSize=6.5, color="#333333", baseline="bottom", dy=-1, font=PFONT).encode(
                x=X("xm:Q"), y=Y("yb:Q"), text="lab:N"),
        ]
    if top_strip:
        layers += top_strip_layers(top_strip, W, 21)
    if right_strip:
        layers += right_strip_layers(right_strip, W, H)
    if letter:
        layers.append(letter_layer(letter, -31, -17))
    return alt.layer(*layers).properties(width=W, height=H)


# ---------------- stacked bar panels ----------------
def bar_axis_x():
    return alt.Axis(labelAngle=-45, labelAlign="right", labelBaseline="middle", tickSize=3, labelFontSize=8,
                    labelColor="#333333", tickColor="#333333", domain=False, grid=False, title="",
                    labelPadding=2, labelOverlap=False)


def bar_axis_y(title):
    return alt.Axis(values=[0, 25, 50, 75, 100], tickSize=3, labelFontSize=8.5, labelColor="#333333",
                    tickColor="#333333", domain=False, grid=False, labelPadding=2, title=title,
                    titleFontSize=9.5, titleFontWeight="normal", titleColor=INK, titlePadding=4)


c_df = pd.DataFrame({"site": C_SITE, "cluster": C_CLUSTER, "contrib": C_CONTRIB, "pct": C_PCT})
c_df["ord"] = c_df["contrib"].map({k: 3 - i for i, k in enumerate(CONTRIB)})
d_rows = []
for s, cl, vals in zip(D_SITE, D_CLUSTER, D_VALUES):
    for i, (el, v) in enumerate(zip(ELEMENTS, vals)):
        if v > 0:
            d_rows.append({"site": s, "cluster": cl, "element": el, "pct": v, "ord": len(ELEMENTS) - i})
d_df = pd.DataFrame(d_rows)


def bar_chart(df, site, field, cats, colors, W, H, first, ytitle, ydom, strip_h, letter=None, letter_y=0):
    sub = df[df["site"] == site]
    clusters = ["Cluster %d" % (k + 1) for k in range(N_CLUSTERS[site])]
    bars = alt.Chart(sub).mark_bar(stroke="#3d3d3d", strokeWidth=0.6).encode(
        x=alt.X("cluster:N", scale=alt.Scale(domain=clusters, paddingInner=0.1, paddingOuter=0.15), axis=bar_axis_x()),
        y=alt.Y("pct:Q", stack="zero", scale=alt.Scale(domain=ydom, nice=False, zero=False),
                axis=bar_axis_y(ytitle) if first else None),
        fill=alt.Fill(field + ":N", scale=alt.Scale(domain=cats, range=colors), legend=None),
        order=alt.Order("ord:Q"),
    )
    layers = [bars] + top_strip_layers(site, W, strip_h)
    if letter:
        layers.append(letter_layer(letter, LETTER_X, letter_y))
    return alt.layer(*layers).properties(width=W, height=H)


# ---------------- assemble ----------------
def flush_h(charts, spacing):
    return alt.hconcat(*charts, spacing=spacing, bounds="flush").resolve_scale(**RES)


row_a = flush_h([net_chart("Palsa", PALSA_NODES, PALSA_EDGES, PALSA_LABELS, letter="a"),
                 net_chart("Bog", BOG_NODES, BOG_EDGES, BOG_LABELS),
                 net_chart("Fen", FEN_NODES, FEN_EDGES, FEN_LABELS)], spacing=0)
row_leg = flush_h([node_type_legend(159, 23), rho_legend(79, 25),
                   swatch_legend(TAXA, TAXA_COLORS, 2, 24, 464, 23, "Taxa", 20, mark="circle", gap=10)],
                  spacing=0)

b_cells = []
for m in METRICS:
    for site in SITES:
        b_cells.append(violin_panel(
            m, site, B_W[site], B_H, first=(site == "Palsa"), bottom=(m == "NOSC"),
            top_strip=site if m == "AI_mod" else None,
            right_strip=m if site == "Fen" else None,
            letter="b" if (m == "AI_mod" and site == "Palsa") else None))
b_grid = alt.concat(*b_cells, columns=3, spacing=7, bounds="flush", align="each").resolve_scale(**RES)

c_block = flush_h([bar_chart(c_df, s, "contrib", CONTRIB, CONTRIB_COLORS, CD_W[s], 58, s == "Palsa",
                             "Metabolites (%)", [-5, 105], 21,
                             letter="c" if s == "Palsa" else None, letter_y=-17) for s in SITES], spacing=8)
d_block = flush_h([bar_chart(d_df, s, "element", ELEMENTS, ELEMENT_COLORS, CD_W[s], 42, s == "Palsa",
                             ["Metabolite elemental", "composition (%)"], [-6, 106], 20,
                             letter="d" if s == "Palsa" else None, letter_y=-30) for s in SITES], spacing=8)
c_leg = swatch_legend(CONTRIB, CONTRIB_COLORS, 1, 52, 299, 10, "Feature contribution", 47)
d_leg = swatch_legend(ELEMENTS, ELEMENT_COLORS, 2, 55, 299, 24, "Elemental composition", 50)

c_part = alt.vconcat(c_block, c_leg, spacing=24).resolve_scale(**RES)
d_part = alt.vconcat(d_block, d_leg, spacing=17).resolve_scale(**RES)
cd_col = alt.vconcat(c_part, d_part, spacing=13).resolve_scale(**RES)
b_cd = alt.hconcat(b_grid, cd_col, spacing=22).resolve_scale(**RES)
row_b = alt.hconcat(spacer(1, 1), b_cd, spacing=0).resolve_scale(**RES)
top_part = alt.vconcat(row_a, row_leg, spacing=5).resolve_scale(**RES)

chart = alt.vconcat(top_part, row_b, spacing=15).resolve_scale(**RES).properties(padding=0).configure(
    font=FONT).configure_view(stroke=FRAME, strokeWidth=0.8).configure_axis(grid=False).configure_title(
    fontWeight="normal")

chart.save("out.html", embed_options={"renderer": "svg", "actions": False})
